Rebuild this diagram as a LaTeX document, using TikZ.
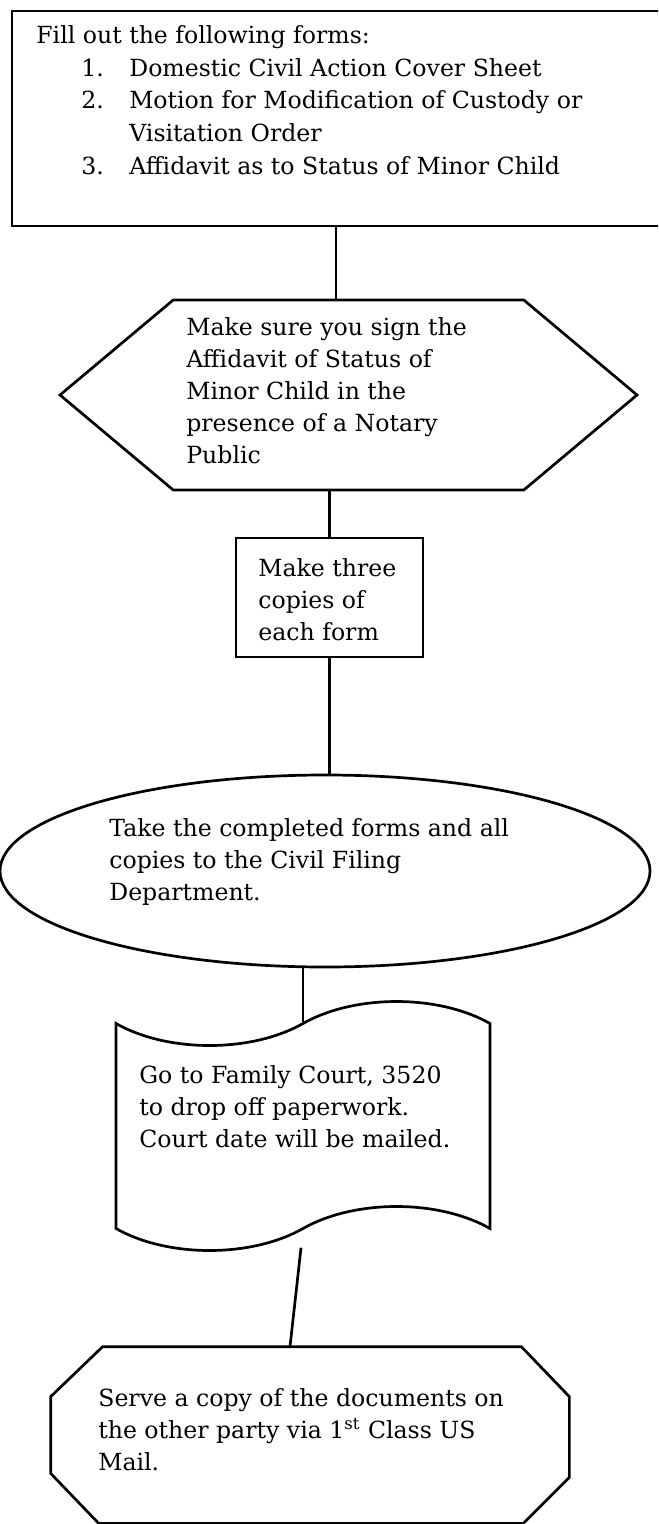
\documentclass[tikz,border=0pt]{standalone}
\usepackage{fontspec}
\setmainfont{DejaVu Serif}
\usetikzlibrary{shapes.geometric,shapes.symbols,calc}

\tikzset{
  every node/.style={font=\fontsize{11.8}{16}\selectfont},
  chart/.style={draw, line width=1.35pt, inner sep=0pt},
  txt/.style={inner sep=0pt, align=left, anchor=north west},
}

\begin{document}
\begin{tikzpicture}[x=0.5pt, y=-0.5pt, line width=1.35pt]
	\useasboundingbox (0,0) rectangle (658,1524);
	\clip (0,0) rectangle (658,1524);
	% the shapes
	\node[chart, minimum width=344pt, minimum height=107.5pt] (formbox) at (356,118.5) {};
	\node[chart, signal, signal to=east and west, signal pointer angle=80, minimum width=288.5pt, minimum height=95pt] (sign) at (348.5,395) {};
	\node[chart, minimum width=93.5pt, minimum height=59.5pt] (copies) at (329.5,597.5) {};
	\node[chart, ellipse, minimum width=325pt, minimum height=96pt] (filing) at (325,871) {};
	\node[chart, tape, tape bend height=22pt, minimum width=187pt, minimum height=124.5pt] (court) at (303,1126) {};
	\node[inner sep=0pt, minimum width=258pt, minimum height=87pt] (serve) at (310,1435) {};
	\draw ($(serve.north west)+(52,0)$) -- ($(serve.north east)+(-48,0)$)
		-- ($(serve.north east)+(0,50)$) -- ($(serve.south east)+(0,-46)$)
		-- ($(serve.south east)+(-46,0)$) -- ($(serve.south west)+(48,0)$)
		-- ($(serve.south west)+(0,-50)$) -- ($(serve.north west)+(0,50)$) -- cycle;
	% the texts
	\node[txt, font=\fontsize{11.8}{16.4}\selectfont] (formstxt) at (35,24) {Fill out the following forms:\\
		\hspace*{22.5pt}\makebox[24pt][l]{1.}Domestic Civil Action Cover Sheet\\
		\hspace*{22.5pt}\makebox[24pt][l]{2.}Motion for Modification of Custody or\\
		\hspace*{46.5pt}Visitation Order\\
		\hspace*{22.5pt}\makebox[24pt][l]{3.}Affidavit as to Status of Minor Child};
	\node[txt] (signtxt) at (185,316) {Make sure you sign the\\ Affidavit of Status of\\ Minor Child in the\\ presence of a Notary\\ Public};
	\node[txt] (copiestxt) at (257,557) {Make three\\ copies of\\ each form};
	\node[txt] (filingtxt) at (108,817) {Take the completed forms and all\\ copies to the Civil Filing\\ Department.};
	\node[txt] (courttxt) at (138,1064) {Go to Family Court, 3520\\ to drop off paperwork.\\ Court date will be mailed.};
	\node[txt] (servetxt) at (97,1387) {Serve a copy of the documents on\\ the other party via 1\textsuperscript{st} Class US\\ Mail.};
	% the connectors
	\coordinate (c1) at ($(sign.north)+(-12.5,0)$);
	\draw (c1 |- formbox.south) -- (c1);
	\draw (sign.south -| copies.north) -- (copies.north);
	\draw (copies.south) -- (copies.south |- filing.north);
	\draw (court.north |- filing.south) -- (court.north);
	\draw[shorten <=9pt] (court.south) -- ($(serve.north)+(-20,0)$);
\end{tikzpicture}
\end{document}
